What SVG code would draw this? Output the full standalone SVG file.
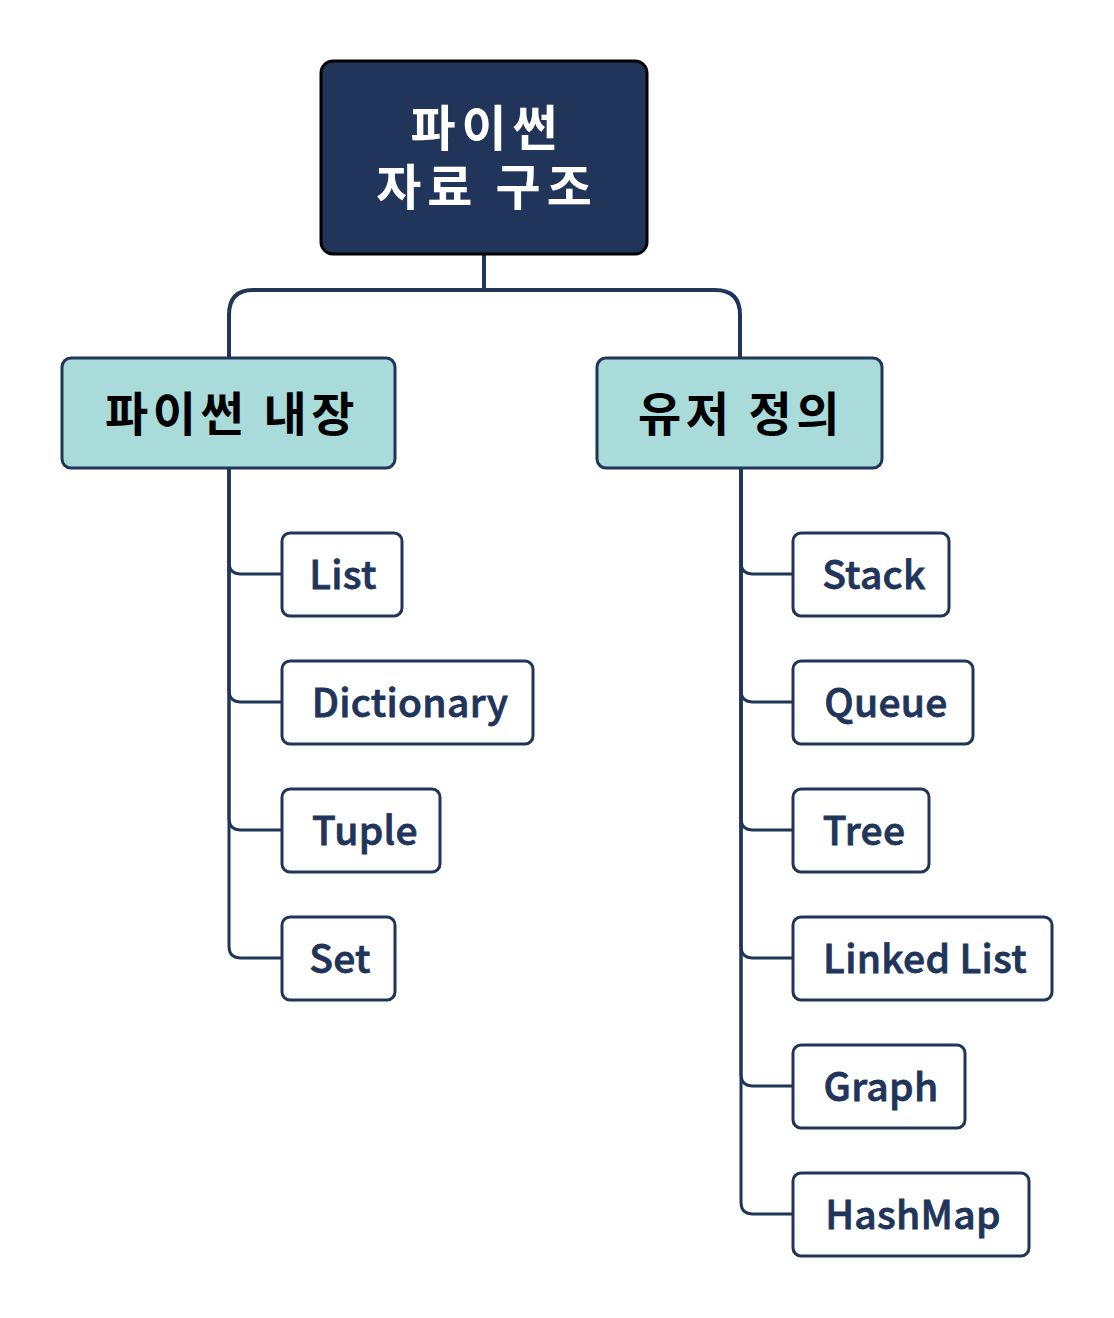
<svg xmlns="http://www.w3.org/2000/svg" width="1114" height="1318" viewBox="0 0 1114 1318">
<style>
.root{fill:#21355a;stroke:#000;stroke-width:3}
.cat{fill:#a8dbd9;stroke:#21355a;stroke-width:3}
.leaf{fill:#fff;stroke:#21355a;stroke-width:3}
.con{fill:none;stroke:#21355a;stroke-width:4}
.br{fill:none;stroke:#21355a;stroke-width:3}
.t-root{font-family:"Noto Sans CJK KR","Noto Sans",sans-serif;font-weight:700;font-size:49px;letter-spacing:6px;fill:#fff;text-anchor:middle}
.t-cat{font-family:"Noto Sans CJK KR","Noto Sans",sans-serif;font-weight:700;font-size:47px;letter-spacing:4.5px;fill:#000;text-anchor:middle}
.t-leaf{font-family:"Noto Sans CJK KR","Noto Sans",sans-serif;font-weight:500;font-size:39px;letter-spacing:0.3px;fill:#21355a;stroke:#21355a;stroke-width:0.8px;text-anchor:middle}
</style>
<rect width="1114" height="1318" fill="#fff"/>
<g id="connectors">
<path class="con" d="M484,254 V290"/>
<path class="con" d="M253,290 H715 Q740,290 740,315 V358"/>
<path class="con" d="M253,290 Q229,290 229,315 V358"/>
<path class="br" d="M229,468 V562 Q229,574 241,574 H282"/>
<path class="br" d="M229,468 V690 Q229,702 241,702 H282"/>
<path class="br" d="M229,468 V818 Q229,830 241,830 H282"/>
<path class="br" d="M229,468 V946 Q229,958 241,958 H282"/>
<path class="br" d="M741,468 V562 Q741,574 753,574 H793"/>
<path class="br" d="M741,468 V690 Q741,702 753,702 H793"/>
<path class="br" d="M741,468 V818 Q741,830 753,830 H793"/>
<path class="br" d="M741,468 V946 Q741,958 753,958 H793"/>
<path class="br" d="M741,468 V1074 Q741,1086 753,1086 H793"/>
<path class="br" d="M741,468 V1202 Q741,1214 753,1214 H793"/>
</g>
<g id="root">
<rect class="root" x="321" y="61" width="326" height="193" rx="12"/>
<text class="t-root"><tspan x="487" y="146">파이썬</tspan><tspan x="487" y="205">자료 구조</tspan></text>
</g>
<g id="builtin">
<rect class="cat" x="62" y="358" width="333" height="110" rx="9"/>
<text class="t-cat" x="232" y="431">파이썬 내장</text>
</g>
<g id="userdef">
<rect class="cat" x="597" y="358" width="285" height="110" rx="9"/>
<text class="t-cat" x="741" y="431">유저 정의</text>
</g>
<g id="list"><rect class="leaf" x="282" y="533" width="120" height="83" rx="8"/><text class="t-leaf" x="343" y="589">List</text></g>
<g id="dictionary"><rect class="leaf" x="282" y="661" width="251" height="83" rx="8"/><text class="t-leaf" x="410" y="717">Dictionary</text></g>
<g id="tuple"><rect class="leaf" x="282" y="789" width="158" height="83" rx="8"/><text class="t-leaf" x="365" y="845">Tuple</text></g>
<g id="set"><rect class="leaf" x="282" y="917" width="113" height="83" rx="8"/><text class="t-leaf" x="340" y="973">Set</text></g>
<g id="stack"><rect class="leaf" x="793" y="533" width="156" height="83" rx="8"/><text class="t-leaf" x="874" y="589">Stack</text></g>
<g id="queue"><rect class="leaf" x="793" y="661" width="180" height="83" rx="8"/><text class="t-leaf" x="886" y="717">Queue</text></g>
<g id="tree"><rect class="leaf" x="793" y="789" width="136" height="83" rx="8"/><text class="t-leaf" x="864" y="845">Tree</text></g>
<g id="linkedlist"><rect class="leaf" x="793" y="917" width="259" height="83" rx="8"/><text class="t-leaf" x="925" y="973">Linked List</text></g>
<g id="graph"><rect class="leaf" x="793" y="1045" width="172" height="83" rx="8"/><text class="t-leaf" x="881" y="1101">Graph</text></g>
<g id="hashmap"><rect class="leaf" x="793" y="1173" width="236" height="83" rx="8"/><text class="t-leaf" x="913" y="1229">HashMap</text></g>
</svg>
